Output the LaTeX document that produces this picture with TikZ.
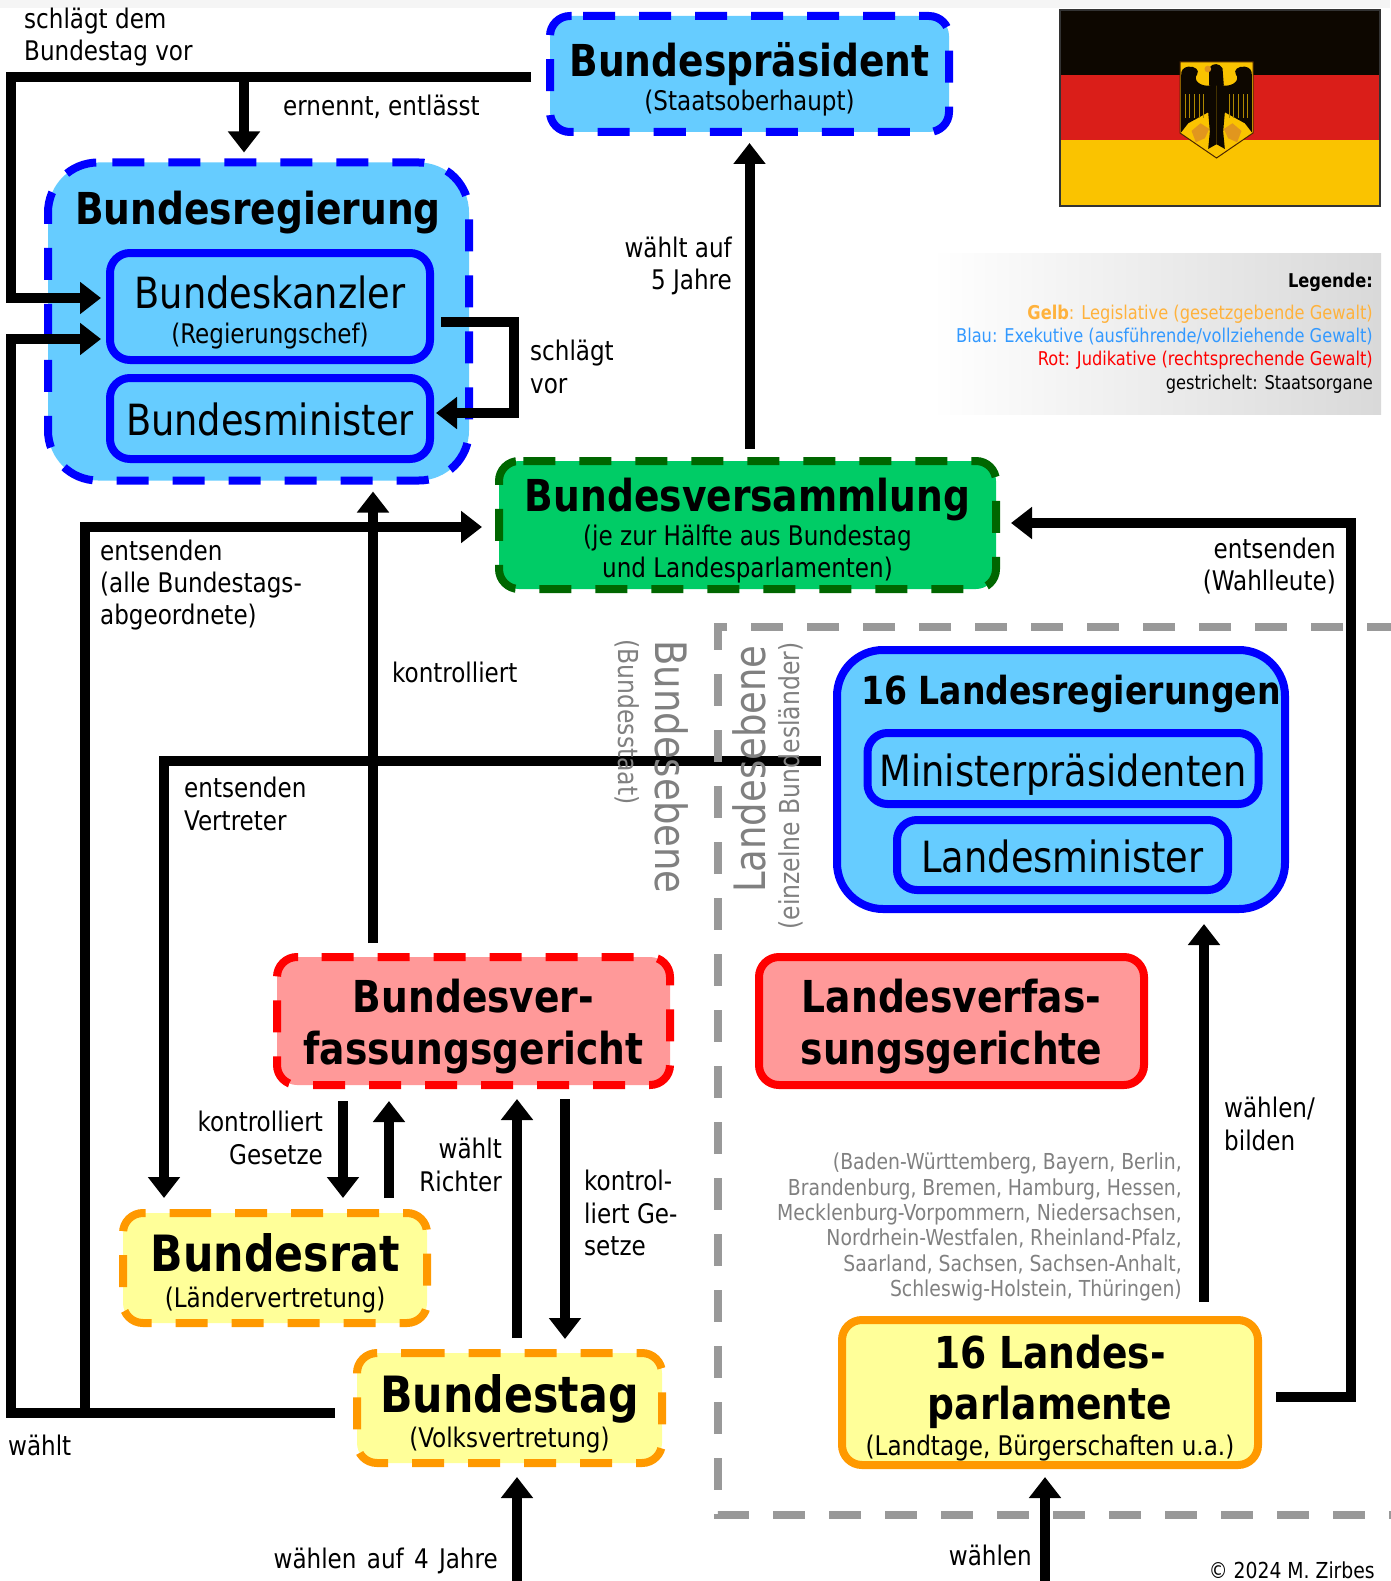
\documentclass[tikz,border=0pt]{standalone}
\usepackage{fontspec}
\setmainfont[FakeStretch=0.95]{DejaVu Sans Condensed}
\usetikzlibrary{arrows.meta}
\definecolor{blueFill}{RGB}{102,204,255}
\definecolor{blueEdge}{RGB}{0,0,255}
\definecolor{greenFill}{RGB}{0,204,102}
\definecolor{greenEdge}{RGB}{0,102,0}
\definecolor{redFill}{RGB}{255,153,153}
\definecolor{redEdge}{RGB}{255,0,0}
\definecolor{yellowFill}{RGB}{255,255,153}
\definecolor{orangeEdge}{RGB}{255,153,0}
\definecolor{levelGrey}{RGB}{128,128,128}
\definecolor{dashGrey}{RGB}{153,153,153}
\definecolor{flagBlack}{RGB}{13,7,0}
\definecolor{flagRed}{RGB}{218,30,25}
\definecolor{flagGold}{RGB}{250,195,0}
\definecolor{footGold}{RGB}{225,150,30}
\definecolor{legendOrange}{RGB}{255,178,60}
\definecolor{legendBlue}{RGB}{51,153,255}
\newcommand{\titlefont}{\fontsize{44}{50}\bfseries\selectfont}
\newcommand{\bigtitlefont}{\fontsize{50}{56}\bfseries\selectfont}
\newcommand{\namefont}{\fontsize{43}{50}\selectfont}
\newcommand{\subfont}{\fontsize{27}{32.3}\selectfont}
\newcommand{\topgap}[1]{\rule{0pt}{#1pt}}
% dashed outline of a state organ: node, colour, radius, where the first dash begins
\newcommand{\organframe}[4]{%
    \draw[line width=8pt,#2,rounded corners=#3,dash pattern=on 32pt off 24pt] ([xshift=#4]#1.north west) -- (#1.north east) -- (#1.south east) -- (#1.south west) -- (#1.north west) -- ([xshift=#4]#1.north west);}
\tikzset{
    organ/.style={rectangle,rounded corners=20pt,line width=8pt,align=center,inner sep=0pt,outer sep=0pt,
        font=\fontsize{27}{42}\selectfont},
    bluebox/.style={fill=blueFill,draw=blueEdge},
    redbox/.style={fill=redFill,draw=redEdge},
    yellowbox/.style={fill=yellowFill,draw=orangeEdge},
    link/.style={line width=10pt,-{Triangle[length=21pt,width=31pt]}},
    lbl/.style={inner sep=0pt,font=\subfont},
    levellbl/.style={inner sep=0pt,text=levelGrey},
}
\begin{document}
\begin{tikzpicture}[x=1pt,y=-1pt]
        \useasboundingbox (0,0) rectangle (1390,1581);
        \fill[black!4] (0,0) rectangle (1390,8);
        % flag
        \fill[flagBlack] (1059,9) rectangle (1381,75);
        \fill[flagRed] (1059,75) rectangle (1381,140);
        \fill[flagGold] (1059,140) rectangle (1381,207);
        \draw[line width=2pt,black!80] (1060,10) rectangle (1380,206);
        \filldraw[fill=flagGold,draw=black!70!orange,line width=1pt] (1180,62) -- (1253,62) -- (1253,133) -- (1216.5,158) -- (1180,133) -- cycle;
        \begin{scope}[shift={(1216.5,55)},x=0.333pt,y=-0.333pt]
            \foreach \side in {1,-1} {
                \begin{scope}[xscale=\side]
                    \fill[flagBlack] (0,80) -- (20,92) .. controls (50,95) and (72,75) .. (58,58) .. controls (50,45) and (65,33) .. (85,35) .. controls (100,37) and (107,47) .. (106,60) -- (106,232) -- (85,205) -- (25,172) -- (20,230) -- (25,282) -- (0,268) -- cycle;
                    \foreach \wx in {38,52,66,80,94} {
                        \draw[flagGold!70!black,line width=0.8pt] (\wx,118) -- (\wx,190);
                    }
                    \fill[footGold] (22,222) -- (48,205) -- (75,228) -- (62,262) -- (35,250) -- cycle;
                \end{scope}
            }
            \fill[flagBlack] (-22,38) .. controls (-10,22) and (10,25) .. (18,40) -- (22,92) -- (-22,92) -- cycle;
            \fill[footGold] (-26,42) circle (10);
        \end{scope}
        % legend
        \shade[left color=white,right color=black!15] (932,253) rectangle (1381,414);
        \node at (1373,333) [anchor=east,inner sep=0pt,align=right,font=\fontsize{19}{23.2}\selectfont] (legend) {%
            {\bfseries Legende:}\\[9pt]
            \textcolor{legendOrange}{\textbf{Gelb}: Legislative (gesetzgebende Gewalt)}\\
            \textcolor{legendBlue}{Blau: Exekutive (ausführende/vollziehende Gewalt)}\\
            \textcolor{red}{Rot: Judikative (rechtsprechende Gewalt)}\\
            gestrichelt: Staatsorgane};
        % organs
        \node at (749.5,74) [organ,fill=blueFill,minimum width=399pt,minimum height=116pt] (praesident) {\topgap{45}{\titlefont Bundespräsident}\\[-8pt](Staatsoberhaupt)};
        \organframe{praesident}{blueEdge}{20pt}{33pt}
        \node at (258.5,321.5) [organ,fill=blueFill,rounded corners=50pt,minimum width=421pt,minimum height=318pt] (regierung) {};
        \organframe{regierung}{blueEdge}{50pt}{64.3pt}
        \node at (258,213) [inner sep=0pt,font=\titlefont] (regtitle) {Bundesregierung};
        \node at (270,306.5) [organ,bluebox,minimum width=320pt,minimum height=107pt] (kanzler) {\topgap{45}{\namefont Bundeskanzler}\\[-7pt](Regierungschef)};
        \node at (270,418.5) [organ,bluebox,minimum width=320pt,minimum height=81pt] (minister) {\topgap{35}\namefont Bundesminister};
        \node at (747.5,525) [organ,fill=greenFill,minimum width=497pt,minimum height=128pt] (versammlung) {\topgap{44}{\titlefont Bundesversammlung}\\[-8pt](je zur Hälfte aus Bundestag\\[-10pt]und Landesparlamenten)};
        \organframe{versammlung}{greenEdge}{20pt}{24.3pt}
        \node at (1061,779.5) [organ,bluebox,rounded corners=46pt,minimum width=448pt,minimum height=259pt] (landesreg) {};
        % level captions and the dashed frame lie over this line
        \draw[link,shorten <=16pt,shorten >=15pt] ([yshift=18.5pt]landesreg.west) -- (164,761) -- (164,1213);
        \draw[line width=8pt,dashGrey,dash pattern=on 32pt off 24pt] (1399,627) -- (718,627) -- (718,1515) -- (1399,1515);
        \node at (672,767) [levellbl,rotate=-90,font=\fontsize{43.3}{50}\selectfont] (bundesebene) {Bundesebene};
        \node at (627,722) [levellbl,rotate=-90,font=\fontsize{27.5}{32}\selectfont] (bundesstaat) {(Bundesstaat)};
        \node at (749,769) [levellbl,rotate=90,font=\fontsize{43.3}{50}\selectfont] (landesebene) {Landesebene};
        \node at (791,786) [levellbl,rotate=90,font=\fontsize{27.5}{32}\selectfont] (bundeslaender) {(einzelne Bundesländer)};
        \node at (1071,694) [inner sep=0pt,font=\fontsize{38.7}{44}\bfseries\selectfont] (lregtitle) {16 Landesregierungen};
        \node at (1063,768.5) [organ,bluebox,minimum width=391pt,minimum height=71pt] (mpraes) {\topgap{45}\namefont Ministerpräsidenten};
        \node at (1062.5,855) [organ,bluebox,minimum width=331pt,minimum height=70pt] (lminister) {\topgap{35}\namefont Landesminister};
        \node at (473.5,1021) [organ,fill=redFill,minimum width=393pt,minimum height=128pt] (bverfg) {\topgap{45}{\titlefont Bundesver-}\\[10pt]{\titlefont fassungsgericht}};
        \organframe{bverfg}{redEdge}{20pt}{44.7pt}
        \node at (951.5,1021) [organ,redbox,minimum width=385pt,minimum height=128pt] (lverfg) {\topgap{45}{\titlefont Landesverfas-}\\[10pt]{\titlefont sungsgerichte}};
        \node at (275,1268) [organ,fill=yellowFill,minimum width=304pt,minimum height=110pt] (bundesrat) {\topgap{48}{\bigtitlefont Bundesrat}\\[-6pt](Ländervertretung)};
        \organframe{bundesrat}{orangeEdge}{20pt}{56pt}
        \node at (509.5,1408) [organ,fill=yellowFill,minimum width=305pt,minimum height=110pt] (bundestag) {\topgap{49}{\bigtitlefont Bundestag}\\[-7pt](Volksvertretung)};
        \organframe{bundestag}{orangeEdge}{20pt}{55.7pt}
        \node at (1050,1392.5) [organ,yellowbox,minimum width=416pt,minimum height=145pt] (parlamente) {\topgap{44}{\titlefont 16 Landes-}\\[9pt]{\titlefont parlamente}\\[-6pt](Landtage, Bürgerschaften u.a.)};
        % connectors
        \draw[link,shorten <=19pt] ([yshift=-3pt]praesident.west) -- (11,77) -- (11,298) -- ([yshift=8.5pt,xshift=-9pt]kanzler.west);
        \draw[link] (244,77) -- ([xshift=-14.5pt,yshift=10pt]regierung.north);
        \draw[link,shorten <=22pt] ([yshift=-5pt]bundestag.west) -- (11,1413) -- (11,339) -- ([yshift=-32.5pt,xshift=-9pt]kanzler.west);
        \draw[link] (85,1413) -- (85,527) -- ([yshift=-2pt,xshift=-17pt]versammlung.west);
        \draw[link,shorten <=14pt,shorten >=11pt] ([xshift=-100.5pt]bverfg.north) -- ([xshift=114.5pt]regierung.south);
        \draw[link,shorten <=11pt] ([yshift=-15.5pt]kanzler.east) -- (514,322) -- (514,413) -- ([yshift=5.5pt,xshift=6pt]minister.east);
        \draw[link,shorten <=12pt,shorten >=11pt] (praesident.south |- versammlung.north) -- (praesident.south);
        \draw[link] ([yshift=-4.5pt,xshift=18pt]parlamente.east) -- (1351,1397) -- (1351,523) -- ([yshift=2pt,xshift=15pt]versammlung.east);
        \draw[link,shorten <=18pt,shorten >=15pt] ([xshift=154pt]parlamente.north) -- ([xshift=143pt]landesreg.south);
        \coordinate (voterparl) at (1045,1581);
        \coordinate (votertag) at (517,1581);
        \draw[link,shorten >=12pt] (voterparl) -- (voterparl |- parlamente.south);
        \draw[link,shorten >=14pt] (votertag) -- (votertag |- bundestag.south);
        \draw[link,shorten <=16pt,shorten >=15pt] ([xshift=-130.5pt]bverfg.south) -- ([xshift=68pt]bundesrat.north);
        \draw[link,shorten <=15pt,shorten >=16pt] ([xshift=114pt]bundesrat.north) -- ([xshift=-84.5pt]bverfg.south);
        \draw[link,shorten <=15pt,shorten >=14pt] ([xshift=7.5pt]bundestag.north) -- ([xshift=43.5pt]bverfg.south);
        \draw[link,shorten <=14pt,shorten >=14pt] ([xshift=91.5pt]bverfg.south) -- ([xshift=55.5pt]bundestag.north);
        % labels
        \node at (24,37) [lbl,anchor=west,align=left] (l1) {schlägt dem\\Bundestag vor};
        \node at (283,107) [lbl,anchor=west] (l2) {ernennt, entlässt};
        \node at (530,367) [lbl,anchor=west,align=left] (l3) {schlägt\\vor};
        \node at (732,266) [lbl,anchor=east,align=right] (l4) {wählt auf\\5 Jahre};
        \node at (100,585) [lbl,anchor=west,align=left] (l5) {entsenden\\(alle Bundestags-\\abgeordnete)};
        \node at (1336,566) [lbl,anchor=east,align=right] (l6) {entsenden\\(Wahlleute)};
        \node at (392,672) [lbl,anchor=west] (l7) {kontrolliert};
        \node at (184,804) [lbl,anchor=west,align=left] (l8) {entsenden\\Vertreter};
        \node at (323,1138) [lbl,anchor=east,align=right] (l9) {kontrolliert\\Gesetze};
        \node at (502,1165) [lbl,anchor=east,align=right] (l10) {wählt\\Richter};
        \node at (584,1213) [lbl,anchor=west,align=left] (l11) {kontrol-\\liert Ge-\\setze};
        \node at (8,1445) [lbl,anchor=west] (l12) {wählt};
        \node at (498,1561) [lbl,anchor=east] (l13) {wählen\hspace{3pt} auf\hspace{3pt} 4\hspace{3pt} Jahre};
        \node at (1032,1555) [lbl,anchor=east] (l14) {wählen};
        \node at (1224,1124) [lbl,anchor=west,align=left] (l15) {wählen/\\bilden};
        \node at (1375,1570) [anchor=east,inner sep=0pt,font=\fontsize{22}{26}\selectfont] (copyright) {© 2024 M. Zirbes};
        \node at (1182,1227) [anchor=east,inner sep=0pt,align=right,text=levelGrey,font=\fontsize{22}{25.3}\selectfont] (laender) {(Baden-Württemberg, Bayern, Berlin,\\Brandenburg, Bremen, Hamburg, Hessen,\\Mecklenburg-Vorpommern, Niedersachsen,\\Nordrhein-Westfalen, Rheinland-Pfalz,\\Saarland, Sachsen, Sachsen-Anhalt,\\Schleswig-Holstein, Thüringen)};
\end{tikzpicture}
\end{document}
